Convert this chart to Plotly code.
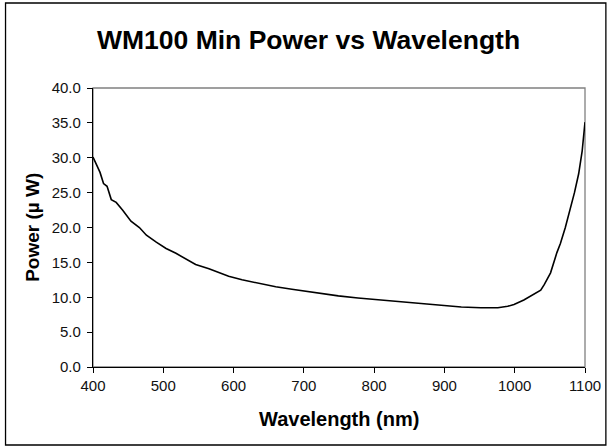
import plotly.graph_objects as go

wavelength_nm = [400, 405, 410, 415, 420, 426, 433, 442, 454, 466, 476, 490, 504, 518, 532, 546,
                 565, 579, 593, 612, 636, 660, 683, 702, 730, 749, 777, 801, 825, 848, 872, 895,
                 924, 952, 976, 990, 999, 1013, 1027, 1037, 1042, 1051, 1060, 1065, 1072, 1079,
                 1085, 1091, 1096, 1100]
min_power_uw = [30.1, 29.0, 27.9, 26.3, 25.9, 24.0, 23.6, 22.5, 20.9, 20.0, 18.9, 17.9, 17.0, 16.3,
                15.45, 14.7, 14.1, 13.6, 13.0, 12.5, 11.95, 11.5, 11.15, 10.85, 10.5, 10.2, 9.9, 9.7,
                9.5, 9.3, 9.1, 8.85, 8.6, 8.5, 8.5, 8.7, 8.95, 9.6, 10.4, 11.0, 11.8, 13.5, 16.4,
                17.7, 20.0, 22.5, 25.0, 27.7, 31.0, 35.1]

x_ticks = [400, 500, 600, 700, 800, 900, 1000, 1100]
y_ticks = [0, 5, 10, 15, 20, 25, 30, 35, 40]

FONT = "Liberation Sans, Arial, sans-serif"
W, H = 613, 448
L, R, T, B = 93, 25, 88, 81
PW, PH = W - L - R, H - T - B

fig = go.Figure()
fig.add_trace(go.Scatter(x=wavelength_nm, y=min_power_uw, mode="lines",
                         line=dict(color="black", width=1.6), showlegend=False,
                         hoverinfo="skip"))

fig.update_layout(
    width=W, height=H,
    margin=dict(l=L, r=R, t=T, b=B),
    paper_bgcolor="white", plot_bgcolor="white",
    font=dict(family=FONT, color="black"),
    xaxis=dict(range=[400, 1100], tickvals=x_ticks, ticktext=[str(v) for v in x_ticks],
               showgrid=False, zeroline=False, showline=True, linecolor="black", linewidth=1.3,
               ticks="outside", ticklen=5, tickwidth=1, tickcolor="black",
               tickfont=dict(size=15, family=FONT, color="#111111")),
    yaxis=dict(range=[0, 40], tickvals=y_ticks, ticktext=[f"{v:.1f}" for v in y_ticks],
               showgrid=False, zeroline=False, showline=True, linecolor="black", linewidth=1.3,
               ticks="outside", ticklen=5, tickwidth=1, tickcolor="black",
               ticklabelstandoff=3,
               tickfont=dict(size=15, family=FONT, color="#111111")),
    shapes=[
        dict(type="rect", xref="paper", yref="paper", x0=0, x1=1, y0=0, y1=1,
             line=dict(color="#808080", width=1.3), layer="below"),
        dict(type="rect", xref="paper", yref="paper",
             x0=(5 - L) / PW, x1=(609 - L) / PW,
             y0=-(445 - (H - B)) / PH, y1=1 + (T - 3) / PH,
             line=dict(color="black", width=1.3)),
    ],
    annotations=[
        dict(text="<b>WM100 Min Power vs Wavelength</b>", xref="paper", yref="paper",
             x=(310 - L) / PW, y=1 + (T - 40) / PH,
             xanchor="center", yanchor="middle", showarrow=False,
             font=dict(size=26.5, family=FONT, color="black")),
        dict(text="<b>Wavelength (nm)</b>", xref="paper", yref="paper",
             x=0.5, y=-(419 - (H - B)) / PH,
             xanchor="center", yanchor="middle", showarrow=False,
             font=dict(size=20, family=FONT, color="black")),
        dict(text="<b>Power (µ W)</b>", xref="paper", yref="paper",
             x=-(L - 32) / PW, y=0.5, textangle=-90,
             xanchor="center", yanchor="middle", showarrow=False,
             font=dict(size=19, family=FONT, color="black")),
    ],
)

fig.write_html("out.html", config={"displayModeBar": False},
               post_script="document.body.style.margin='0';document.body.style.overflow='hidden';")
